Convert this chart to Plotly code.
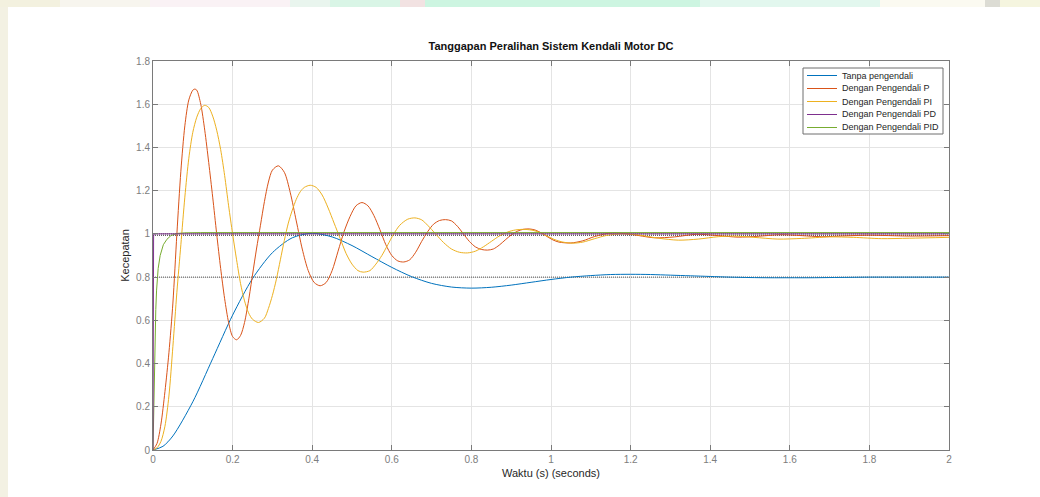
import plotly.graph_objects as go

# ---------------- data ----------------
t_blue = [0, 0.025, 0.05, 0.1, 0.15, 0.2, 0.25, 0.3, 0.35, 0.4, 0.45, 0.5, 0.55, 0.6, 0.65,
          0.7, 0.75, 0.8, 0.85, 0.9, 0.95, 1.0, 1.05, 1.1, 1.15, 1.2, 1.25, 1.3, 1.35, 1.4,
          1.45, 1.5, 1.55, 1.6, 1.65, 1.7, 1.75, 1.8, 1.85, 1.9, 1.95, 2.0]
v_blue = [0, 0.017, 0.065, 0.223, 0.423, 0.624, 0.793, 0.913, 0.982, 1.003, 0.986, 0.946, 0.895,
          0.845, 0.802, 0.771, 0.754, 0.749, 0.753, 0.763, 0.776, 0.789, 0.800, 0.807, 0.812,
          0.813, 0.812, 0.809, 0.806, 0.803, 0.800, 0.798, 0.797, 0.797, 0.797, 0.798, 0.799,
          0.800, 0.800, 0.800, 0.800, 0.800]

t_red = [0, 0.01, 0.02, 0.03, 0.04, 0.05, 0.06, 0.07, 0.08, 0.09, 0.1, 0.105,
         0.11, 0.12, 0.13, 0.14, 0.15, 0.16, 0.17, 0.18, 0.19, 0.2, 0.21, 0.22, 0.23, 0.24,
         0.25, 0.26, 0.27, 0.28, 0.29, 0.3,
         0.315, 0.33, 0.345, 0.36, 0.375, 0.39, 0.405, 0.42, 0.435, 0.45, 0.465, 0.48, 0.495,
         0.51, 0.525, 0.54, 0.555, 0.57, 0.585, 0.6, 0.615, 0.63, 0.645, 0.66, 0.675, 0.69,
         0.705, 0.72, 0.735, 0.75, 0.765, 0.78, 0.795, 0.81, 0.825, 0.84, 0.855, 0.87, 0.885,
         0.9, 0.915, 0.93, 0.945, 0.96, 0.975, 0.99, 1.005, 1.02,
         1.05, 1.08, 1.11, 1.155, 1.2, 1.26, 1.31, 1.365, 1.42, 1.47, 1.52, 1.575, 1.63,
         1.68, 1.74, 1.8, 1.9, 2.0]
v_red = [0, 0.03, 0.12, 0.27, 0.45, 0.68, 1.0, 1.29, 1.50, 1.62, 1.665, 1.67,
         1.665, 1.60, 1.48, 1.33, 1.17, 1.0, 0.84, 0.70, 0.59, 0.525, 0.51, 0.53, 0.59, 0.69,
         0.81, 0.93, 1.04, 1.15, 1.24, 1.295,
         1.315, 1.285, 1.19, 1.06, 0.93, 0.83, 0.775, 0.76, 0.775, 0.83, 0.92, 1.01, 1.08,
         1.13, 1.145, 1.13, 1.085, 1.02, 0.95, 0.90, 0.875, 0.87, 0.88, 0.915, 0.965, 1.01,
         1.045, 1.062, 1.066, 1.06, 1.035, 1.0, 0.965, 0.94, 0.928, 0.925, 0.93, 0.948, 0.972,
         0.995, 1.012, 1.021, 1.023, 1.018, 1.005, 0.988, 0.972, 0.962,
         0.958, 0.968, 0.988, 1.005, 0.998, 0.982, 0.986, 0.998, 0.992, 0.985, 0.989, 0.996,
         0.992, 0.987, 0.991, 0.994, 0.99, 0.992]

t_yel = [0, 0.01, 0.02, 0.03, 0.04, 0.05, 0.06, 0.07, 0.08, 0.09, 0.1, 0.11, 0.12, 0.13,
         0.14, 0.15, 0.16, 0.17, 0.18, 0.19, 0.2, 0.21, 0.22, 0.23, 0.24, 0.25, 0.265, 0.28,
         0.29, 0.3, 0.31, 0.32, 0.33, 0.34, 0.35, 0.36, 0.37, 0.38, 0.395,
         0.41, 0.425, 0.44, 0.455, 0.47, 0.485, 0.5, 0.515, 0.528,
         0.545, 0.56, 0.575, 0.59, 0.605, 0.62, 0.64, 0.658, 0.675, 0.69,
         0.71, 0.73, 0.75, 0.77, 0.79, 0.81, 0.83, 0.85, 0.87, 0.89, 0.91, 0.93, 0.95, 0.97,
         0.99, 1.01, 1.03,
         1.055, 1.08, 1.11, 1.14, 1.18, 1.22, 1.27, 1.32, 1.37, 1.42, 1.46, 1.51, 1.57, 1.63,
         1.7, 1.76, 1.83, 1.9, 2.0]
v_yel = [0, 0.01, 0.04, 0.11, 0.25, 0.48, 0.73, 0.95, 1.17, 1.35, 1.47, 1.54, 1.58, 1.595,
         1.585, 1.545, 1.48, 1.39, 1.27, 1.13, 1.0, 0.88, 0.77, 0.69, 0.635, 0.605, 0.59, 0.61,
         0.655, 0.715, 0.79, 0.88, 0.97, 1.05, 1.11, 1.16, 1.195, 1.215, 1.225,
         1.215, 1.18, 1.12, 1.05, 0.98, 0.91, 0.86, 0.83, 0.823,
         0.83, 0.86, 0.90, 0.95, 1.0, 1.04, 1.068, 1.074, 1.065, 1.04,
         1.0, 0.96, 0.93, 0.915, 0.912, 0.92, 0.94, 0.965, 0.99, 1.008, 1.018, 1.021, 1.018,
         1.008, 0.99, 0.973, 0.962,
         0.957, 0.962, 0.978, 0.993, 1.0, 0.995, 0.98, 0.971, 0.976, 0.987, 0.99, 0.984, 0.976,
         0.979, 0.986, 0.984, 0.978, 0.98, 0.984]

t_pd = [0, 0.0005, 0.001, 0.0015, 0.003, 2.0]
v_pd = [0, 0.5, 0.9, 0.99, 1.0, 1.0]

t_pid = [0, 0.001, 0.002, 0.003, 0.005, 0.007, 0.009, 0.013, 0.018, 0.026, 0.035, 0.045,
         0.06, 0.08, 0.12, 2.0]
v_pid = [0, 0.12, 0.24, 0.34, 0.52, 0.65, 0.74, 0.84, 0.90, 0.95, 0.975, 0.992,
         1.002, 1.005, 1.006, 1.006]

steady_levels = [0.8, 0.993, 1.0]

names = ["Tanpa pengendali", "Dengan Pengendali P", "Dengan Pengendali PI",
         "Dengan Pengendali PD", "Dengan Pengendali PID"]
colors = ["#0072BD", "#D95319", "#EDB120", "#7E2F8E", "#77AC30"]

title_text = "Tanggapan Peralihan Sistem Kendali Motor DC"
x_title = "Waktu (s) (seconds)"
y_title = "Kecepatan"

# ---------------- geometry ----------------
W, H = 1040, 497
PL, PR, PT, PB = 153, 949, 61, 450   # plot area in pixels


def dx(px):
    return (px - PL) / (PR - PL)


def dy(py):
    return (PB - py) / (PB - PT)


FONT = "Liberation Sans, Arial, Helvetica, sans-serif"

fig = go.Figure()

# steady-state dotted reference lines
for lv in steady_levels:
    fig.add_trace(go.Scatter(x=[0, 2], y=[lv, lv], mode="lines",
                             line=dict(color="#505050", width=1, dash="1px,1px"),
                             hoverinfo="skip", showlegend=False))

series = [(t_blue, v_blue, "spline"), (t_red, v_red, "spline"), (t_yel, v_yel, "spline"),
          (t_pd, v_pd, "linear"), (t_pid, v_pid, "linear")]
draw_order = [0, 1, 2, 4, 3]   # PD drawn last so its jump at t=0 stays visible
for i in draw_order:
    tx, vy, shp = series[i]
    fig.add_trace(go.Scatter(x=tx, y=vy, mode="lines", name=names[i],
                             line=dict(color=colors[i], width=1, shape=shp,
                                       smoothing=0.8 if shp == "spline" else None),
                             showlegend=False))

# ---------------- custom compact legend (MATLAB style) ----------------
shapes = []
annotations = []
shapes.append(dict(type="rect", xref="x domain", yref="y domain",
                   x0=dx(803), x1=dx(943), y0=dy(134), y1=dy(68),
                   line=dict(color="#6e6e6e", width=1), fillcolor="white", layer="above"))
row_y = [75.5, 88.5, 101.5, 114.5, 127.5]
for ry, nm, c in zip(row_y, names, colors):
    shapes.append(dict(type="line", xref="x domain", yref="y domain",
                       x0=dx(807), x1=dx(837), y0=dy(ry), y1=dy(ry),
                       line=dict(color=c, width=1), layer="above"))
    annotations.append(dict(text=nm, xref="x domain", yref="y domain",
                            x=dx(840), y=dy(ry), xanchor="left", yanchor="middle",
                            showarrow=False, font=dict(family=FONT, size=9, color="#262626")))

# ---------------- page background strips (scanned document edge) ----------------
top_strip = [(0, 60, "#f3f1df"), (60, 150, "#f7f5ee"), (150, 290, "#faf2f5"),
             (290, 330, "#e9f5ee"), (330, 400, "#d9f5e6"), (400, 425, "#f2e2e2"),
             (425, 700, "#cdf5e1"), (700, 880, "#e2f7ee"), (880, 985, "#fbfaf1"),
             (985, 1000, "#dcdcd4"), (1000, 1040, "#f5f5df")]
for x0, x1, col in top_strip:
    shapes.append(dict(type="rect", xref="paper", yref="paper",
                       x0=dx(x0), x1=dx(x1),
                       y0=dy(7), y1=dy(0), line=dict(width=0), fillcolor=col, layer="below"))
shapes.append(dict(type="rect", xref="paper", yref="paper",
                   x0=dx(0), x1=dx(8),
                   y0=dy(497), y1=dy(7), line=dict(width=0), fillcolor="#f3f1e3", layer="below"))

axis_common = dict(showline=True, linecolor="#7a7a7a", linewidth=1, mirror="allticks",
                   ticks="inside", ticklen=5, tickcolor="#7a7a7a", showgrid=True,
                   gridcolor="#e4e4e4", gridwidth=1, zeroline=False,
                   tickfont=dict(family=FONT, size=10, color="#7d7d7d"))

fig.update_layout(
    width=W, height=H,
    margin=dict(l=PL, r=W - PR, t=PT, b=H - PB),
    paper_bgcolor="white", plot_bgcolor="white",
    showlegend=False,
    title=dict(text=title_text, x=dx(551), xref="paper", xanchor="center",
               y=1 - 46 / H, yanchor="middle",
               font=dict(family=FONT, size=11, color="#111111", weight="bold")),
    xaxis=dict(range=[0, 2], dtick=0.2, tick0=0, **axis_common,
               title=dict(text=x_title, standoff=5,
                          font=dict(family=FONT, size=11, color="#262626"))),
    yaxis=dict(range=[0, 1.8], dtick=0.2, tick0=0, **axis_common,
               title=dict(text=y_title, standoff=4,
                          font=dict(family=FONT, size=11, color="#262626"))),
    shapes=shapes,
    annotations=annotations,
)

fig.write_html("out.html", config={"displayModeBar": False},
               post_script="document.body.style.margin='0';document.body.style.overflow='hidden';")
